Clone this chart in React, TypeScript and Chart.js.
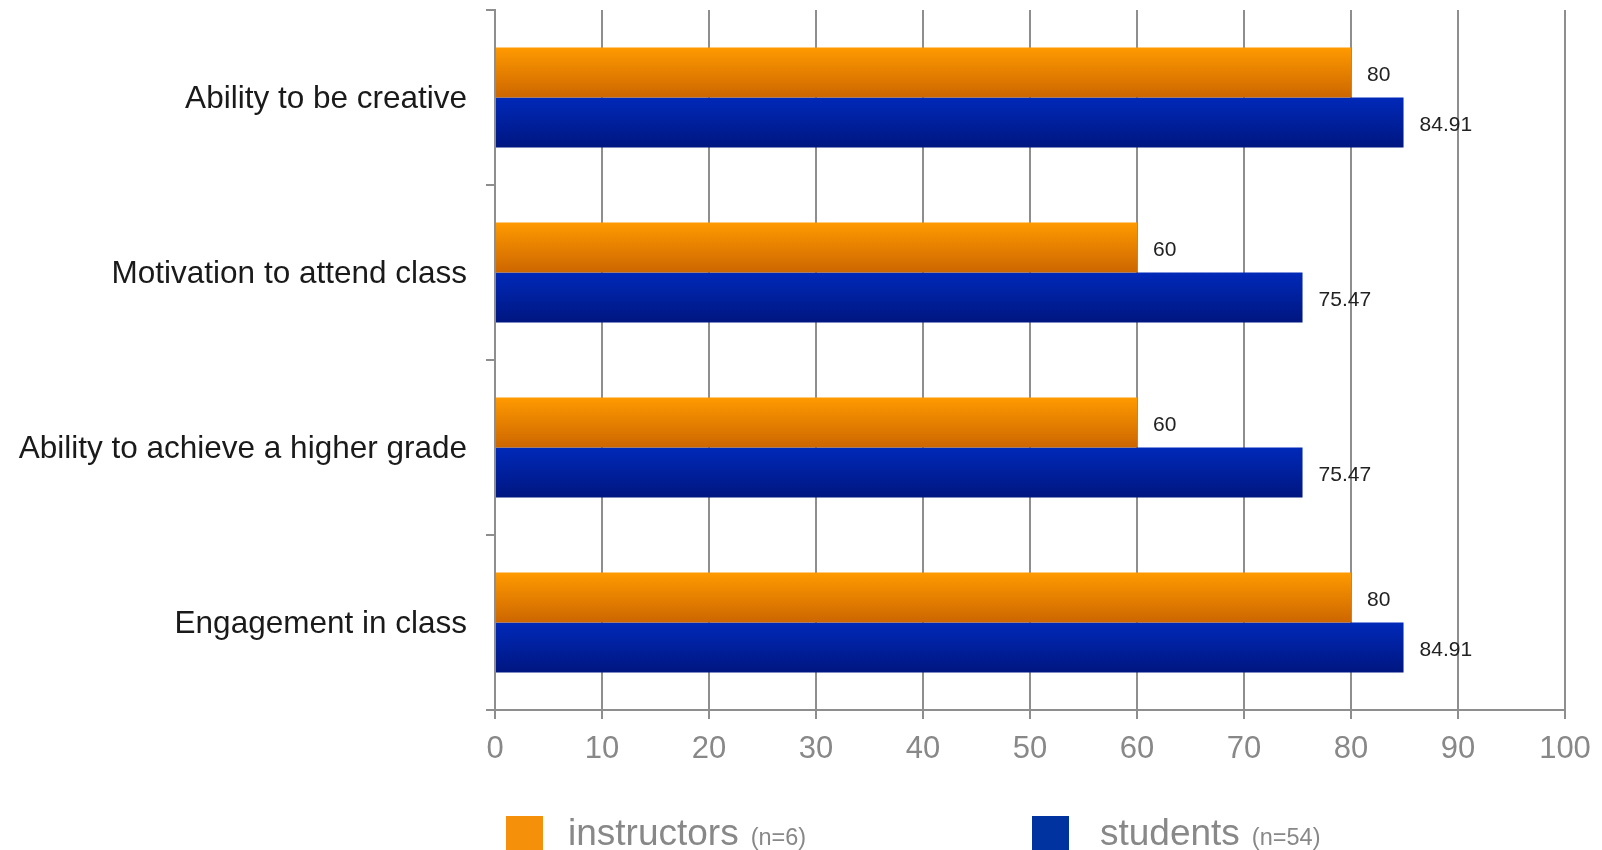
import { useEffect, useRef } from "react";
import { Chart, registerables } from "chart.js";

Chart.register(...registerables);

const categories = [
  "Ability to be creative",
  "Motivation to attend class",
  "Ability to achieve a higher grade",
  "Engagement in class",
];
const instructors = [80, 60, 60, 80];
const students = [84.91, 75.47, 75.47, 84.91];
const seriesNames = ["instructors", "students"];
const seriesNotes = ["(n=6)", "(n=54)"];
const xMin = 0;
const xMax = 100;
const xStep = 10;

const FONT = '"Liberation Sans", Arial, sans-serif';
const GRID = "#8e8e8e";
const CAT_PCT = 0.571;

const gradientFill = (top: string, bottom: string, which: number) => (ctx: any) => {
  const chart = ctx.chart;
  const y = chart.scales && chart.scales.y;
  if (!y || ctx.dataIndex === undefined || ctx.type !== "data") return top;
  const center = y.getPixelForValue(ctx.dataIndex);
  const cat = (y.bottom - y.top) / categories.length;
  if (!isFinite(center) || !isFinite(cat) || cat <= 0) return top;
  const group = cat * CAT_PCT;
  const start = center - group / 2 + (which * group) / 2;
  const g = chart.ctx.createLinearGradient(0, start, 0, start + group / 2);
  g.addColorStop(0, top);
  g.addColorStop(1, bottom);
  return g;
};

const valueLabels = {
  id: "valueLabels",
  afterDatasetsDraw(chart: any) {
    const c = chart.ctx;
    c.save();
    c.font = `21px ${FONT}`;
    c.fillStyle = "#222222";
    c.textBaseline = "middle";
    c.textAlign = "left";
    chart.data.datasets.forEach((ds: any, di: number) => {
      chart.getDatasetMeta(di).data.forEach((el: any, i: number) => {
        c.fillText(String(ds.data[i]), el.x + 16, el.y + 3);
      });
    });
    c.restore();
  },
};

const legendColors = ["#f5900a", "#0033a0"];
const legendX = [506, 1032];
const legendTextX = [568, 1100];

const customLegend = {
  id: "customLegend",
  afterDraw(chart: any) {
    const c = chart.ctx;
    c.save();
    seriesNames.forEach((name, i) => {
      const x = legendX[i];
      c.fillStyle = legendColors[i];
      c.fillRect(x, 816, 37, 37);
      c.fillStyle = "#888888";
      c.textBaseline = "alphabetic";
      c.textAlign = "left";
      c.font = `37px ${FONT}`;
      const tx = legendTextX[i];
      c.fillText(name, tx, 845);
      const w = c.measureText(name).width;
      c.font = `23.5px ${FONT}`;
      c.fillText(seriesNotes[i], tx + w + 12, 845);
    });
    c.restore();
  },
};

export default function App() {
  const ref = useRef<HTMLCanvasElement | null>(null);

  useEffect(() => {
    if (!ref.current) return;
    const chart = new Chart(ref.current, {
      type: "bar",
      data: {
        labels: categories,
        datasets: [
          {
            label: seriesNames[0],
            data: instructors,
            backgroundColor: gradientFill("#ff9a00", "#cc6600", 0),
            borderWidth: 0,
            categoryPercentage: CAT_PCT,
            barPercentage: 1,
          },
          {
            label: seriesNames[1],
            data: students,
            backgroundColor: gradientFill("#0029b9", "#001680", 1),
            borderWidth: 0,
            categoryPercentage: CAT_PCT,
            barPercentage: 1,
          },
        ],
      },
      options: {
        indexAxis: "y",
        responsive: false,
        animation: false,
        devicePixelRatio: 1,
        layout: { padding: { top: 10, right: 37, left: 0, bottom: 0 } },
        plugins: {
          legend: { display: false },
          tooltip: { enabled: false },
        },
        scales: {
          x: {
            type: "linear",
            min: xMin,
            max: xMax,
            ticks: {
              stepSize: xStep,
              color: "#888888",
              font: { family: FONT, size: 31 },
              padding: 12,
            },
            grid: {
              color: GRID,
              lineWidth: 2,
              tickLength: 9,
              drawTicks: true,
            },
            border: { display: true, color: GRID, width: 2 },
            afterFit: (s: any) => {
              s.height = 140;
              s.paddingLeft = 0;
              s.paddingRight = 0;
            },
          },
          y: {
            type: "category",
            ticks: {
              color: "#1a1a1a",
              font: { family: FONT, size: 31.5 },
              padding: 19,
              labelOffset: 2,
            },
            grid: {
              offset: true,
              drawOnChartArea: false,
              color: GRID,
              lineWidth: 2,
              tickLength: 9,
            },
            border: { display: true, color: GRID, width: 2 },
            afterFit: (s: any) => {
              s.width = 495;
              s.paddingTop = 0;
              s.paddingBottom = 0;
            },
          },
        },
      },
      plugins: [valueLabels, customLegend],
    } as any);
    return () => chart.destroy();
  }, []);

  return (
    <div style={{ position: "absolute", left: 0, top: 0, width: 1602, height: 850, background: "#fff" }}>
      <canvas ref={ref} width={1602} height={850} style={{ display: "block" }} />
    </div>
  );
}
